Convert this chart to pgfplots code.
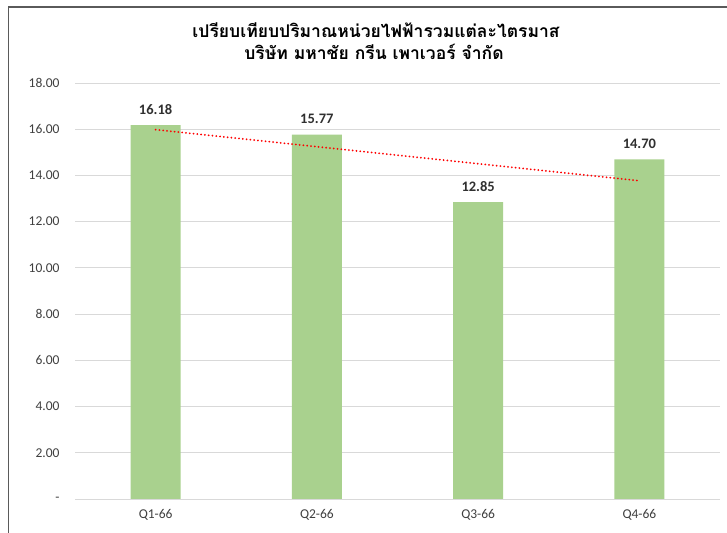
\documentclass[border=0pt]{standalone}
\usepackage{fontspec}
\setmainfont{Carlito}
\newfontfamily\thaifont[Script=Thai]{Loma}
\usepackage{pgfplots}
\pgfplotsset{compat=1.18}
\definecolor{barg}{HTML}{A9D18E}
\definecolor{gridc}{HTML}{D9D9D9}
\definecolor{txt}{HTML}{404040}
\definecolor{lbl}{HTML}{303030}
\definecolor{frame}{HTML}{5A5A5A}
\begin{document}
\begin{tikzpicture}[x=1bp,y=1bp]
\useasboundingbox (0,0) rectangle (727,533);
\fill[white] (0,0) rectangle (727,533);
\draw[frame, line width=1.5bp] (8.5,0) -- (8.5,526) -- (727,526);
\node[font=\thaifont\bfseries\fontsize{17.5bp}{20bp}\selectfont, text=black] at (376,503) {เปรียบเทียบปริมาณหน่วยไฟฟ้ารวมแต่ละไตรมาส};
\node[font=\thaifont\bfseries\fontsize{17.5bp}{20bp}\selectfont, text=black] at (374,481) {บริษัท มหาชัย กรีน เพาเวอร์ จำกัด};
\begin{axis}[
  at={(75bp,34bp)}, anchor=south west,
  scale only axis, width=645bp, height=416bp,
  xmin=-0.5, xmax=3.5, ymin=0, ymax=18,
  xtick={0,1,2,3}, xticklabels={Q1-66,Q2-66,Q3-66,Q4-66},
  ytick={0,2,4,6,8,10,12,14,16,18},
  yticklabels={-,2.00,4.00,6.00,8.00,10.00,12.00,14.00,16.00,18.00},
  major tick length=0pt,
  axis line style={draw=none},
  ymajorgrids, grid style={gridc, line width=0.9bp},
  tick label style={font=\fontsize{13.5bp}{15bp}\selectfont, text=txt},
  yticklabel style={anchor=east, xshift=-12bp},
  xticklabel style={yshift=-7bp},
  /pgf/number format/assume math mode=true,
  clip=false,
]
\addplot[ybar, bar width=50bp, bar shift=0pt, fill=barg, draw=none,
  nodes near coords, point meta=explicit,
  every node near coord/.append style={font=\bfseries\fontsize{14.5bp}{16bp}\selectfont, text=lbl, yshift=7bp, /pgf/number format/fixed, /pgf/number format/precision=2, /pgf/number format/fixed zerofill, /pgf/number format/assume math mode=true}]
  table[meta=y] {
x y
0 16.18
1 15.77
2 12.85
3 14.70
};
\addplot[sharp plot, red, line width=2bp, line cap=round, dash pattern=on 0.01bp off 3.8bp] coordinates {(0,15.98) (3,13.77)};
\end{axis}
\end{tikzpicture}
\end{document}
